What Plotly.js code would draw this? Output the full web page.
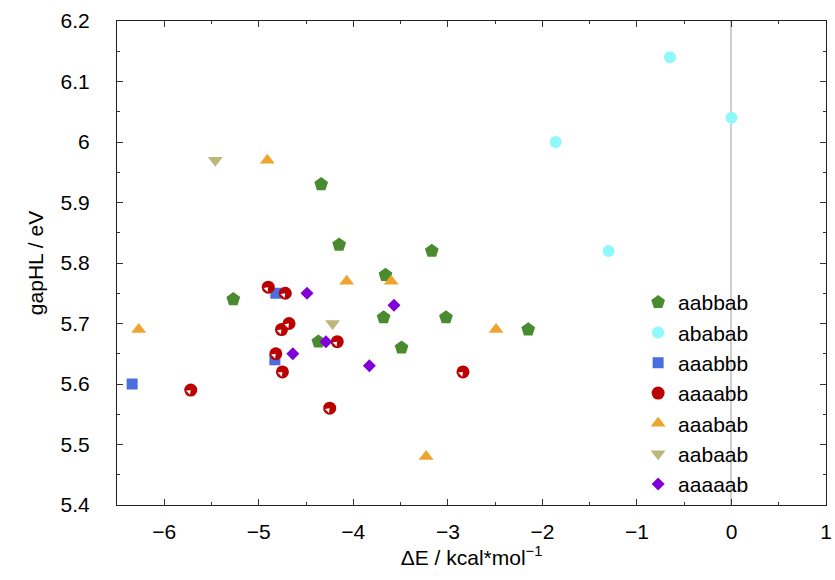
<!DOCTYPE html>
<html>
<head>
<meta charset="utf-8">
<script src="https://cdn.plot.ly/plotly-3.0.1.min.js"></script>
<style>html,body{margin:0;padding:0;background:#fff;}#chart{width:835px;height:580px;}</style>
</head>
<body>
<div id="chart"></div>
<script>
// aabbab
const aabbab_x = [-4.34, -4.15, -3.17, -3.66, -5.27, -3.68, -3.02, -2.15, -4.37, -3.49];
const aabbab_y = [5.93, 5.83, 5.82, 5.78, 5.74, 5.71, 5.71, 5.69, 5.67, 5.66];
// ababab
const ababab_x = [-0.65, 0.00, -1.86, -1.30];
const ababab_y = [6.14, 6.04, 6.00, 5.82];
// aaabbb
const aaabbb_x = [-4.82, -4.83, -6.34];
const aaabbb_y = [5.75, 5.64, 5.60];
// aaaabb
const aaaabb_x = [-4.90, -4.72, -4.68, -4.76, -4.17, -4.82, -4.75, -5.72, -4.25, -2.84];
const aaaabb_y = [5.76, 5.75, 5.70, 5.69, 5.67, 5.65, 5.62, 5.59, 5.56, 5.62];
// aaabab
const aaabab_x = [-4.91, -4.07, -3.60, -6.27, -2.49, -3.23];
const aaabab_y = [5.97, 5.77, 5.77, 5.69, 5.69, 5.48];
// aabaab
const aabaab_x = [-5.46, -4.22];
const aabaab_y = [5.97, 5.70];
// aaaaab
const aaaaab_x = [-4.49, -3.57, -4.64, -4.29, -3.83];
const aaaaab_y = [5.75, 5.73, 5.65, 5.67, 5.63];

const seriesNames = ['aabbab', 'ababab', 'aaabbb', 'aaaabb', 'aaabab', 'aabaab', 'aaaaab'];
const xTickVals = [-6, -5, -4, -3, -2, -1, 0, 1];
const yTickVals = [5.4, 5.5, 5.6, 5.7, 5.8, 5.9, 6.0, 6.1, 6.2];
const yTickText = ['5.4', '5.5', '5.6', '5.7', '5.8', '5.9', '6', '6.1', '6.2'];

const FONT = 'Liberation Sans, Arial, Helvetica, sans-serif';

function tr(name, x, y, symbol, color, size, extra) {
  return Object.assign({
    type: 'scatter', mode: 'markers', name: name, x: x, y: y,
    marker: {symbol: symbol, color: color, size: size, line: {width: 0}}
  }, extra || {});
}

const traces = [
  tr(seriesNames[0], aabbab_x, aabbab_y, 'pentagon', '#4b8b2f', 14.5),
  tr(seriesNames[1], ababab_x, ababab_y, 'circle', '#8ef8fb', 12),
  tr(seriesNames[2], aaabbb_x, aaabbb_y, 'square', '#4a6ee0', 11),
  tr(seriesNames[3], aaaabb_x, aaaabb_y, 'circle', '#bb0000', 13),
  tr(seriesNames[4], aaabab_x, aaabab_y, 'triangle-up', '#eea42e', 13),
  tr(seriesNames[5], aabaab_x, aabaab_y, 'triangle-down', '#bdb878', 13),
  tr(seriesNames[6], aaaaab_x, aaaaab_y, 'diamond', '#8000d8', 10)
];
// white inner wedge of the half-filled red circles
const wedge = {
  type: 'scatter', mode: 'markers', x: aaaabb_x, y: aaaabb_y, showlegend: false, hoverinfo: 'skip',
  marker: {symbol: 'triangle-up', color: '#ffffff', size: 5, angle: 45, standoff: 2.6, line: {width: 0}}
};
traces.splice(4, 0, wedge);

const layout = {
  width: 835, height: 580,
  margin: {l: 117, r: 9, t: 21, b: 75},
  paper_bgcolor: '#ffffff', plot_bgcolor: '#ffffff',
  font: {family: FONT, size: 21, color: '#000'},
  showlegend: true,
  legend: {
    x: 0.735, xanchor: 'left', y: 0.0, yanchor: 'bottom',
    bgcolor: 'rgba(0,0,0,0)', borderwidth: 0,
    font: {family: FONT, size: 21, color: '#000'},
    tracegroupgap: 0
  },
  xaxis: {
    range: [-6.5, 1], tickmode: 'array', tickvals: xTickVals,
    ticks: 'inside', ticklen: 6, tickcolor: '#333', tickwidth: 1,
    minor: {dtick: 0.5, ticks: 'inside', ticklen: 3, tickcolor: '#333', showgrid: false},
    showline: true, linecolor: '#222', linewidth: 1, mirror: 'ticks',
    showgrid: false,
    zeroline: true, zerolinecolor: '#cfcfcf', zerolinewidth: 2,
    ticklabelstandoff: 8,
    tickfont: {family: FONT, size: 21, color: '#000'},
    title: {text: 'ΔE / kcal*mol<sup>−1</sup>', font: {family: FONT, size: 21, color: '#000'}, standoff: 0}
  },
  yaxis: {
    range: [5.4, 6.2], tickmode: 'array', tickvals: yTickVals, ticktext: yTickText,
    ticks: 'inside', ticklen: 6, tickcolor: '#333', tickwidth: 1,
    minor: {dtick: 0.05, ticks: 'inside', ticklen: 3, tickcolor: '#333', showgrid: false},
    showline: true, linecolor: '#222', linewidth: 1, mirror: 'ticks',
    showgrid: false, zeroline: false,
    ticklabelstandoff: 22,
    tickfont: {family: FONT, size: 21, color: '#000'},
    title: {text: 'gapHL / eV', font: {family: FONT, size: 21, color: '#000'}, standoff: 11}
  }
};

Plotly.newPlot('chart', traces, layout, {displayModeBar: false, staticPlot: true});
</script>
</body>
</html>
